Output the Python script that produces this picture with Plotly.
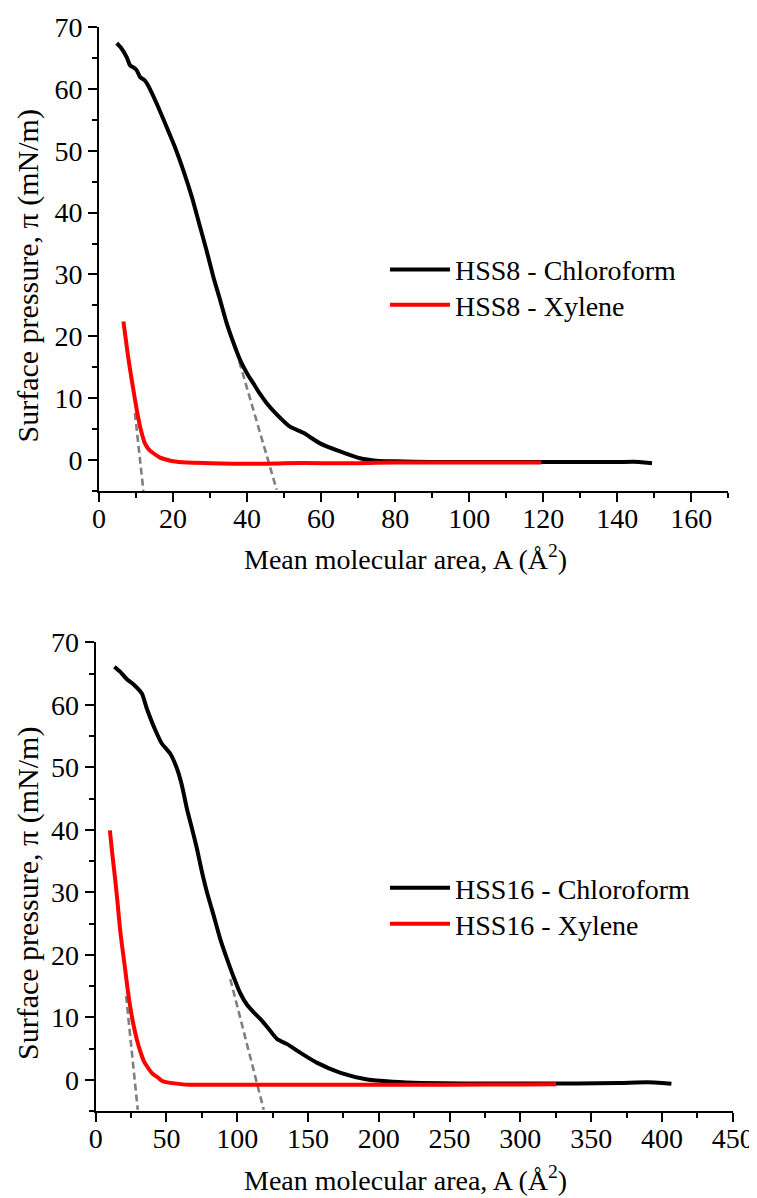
import plotly.graph_objects as go

# ---- data ----
# Top panel: HSS8
hss8_chl_x = [4.8, 6.0, 7.5, 8.4, 9.5, 10.2, 11.1, 12.3, 13.3, 15.6, 18.3, 20.5, 22.8, 25.1,
              27.3, 29.0, 30.9, 32.7, 34.5, 36.3, 38.1, 40.0, 41.7, 43.5, 45.3, 48.0, 51.6,
              55.2, 59.7, 65.1, 70.5, 75, 80, 90, 100, 110, 120, 130, 140, 146, 149.4]
hss8_chl_y = [67.4, 66.6, 65.1, 63.8, 63.4, 63.0, 61.9, 61.4, 60.5, 57.6, 53.8, 50.6, 46.8, 42.5,
              37.7, 34.0, 29.6, 25.9, 22.1, 19.0, 16.2, 14.0, 12.4, 10.7, 9.2, 7.4, 5.4,
              4.4, 2.7, 1.4, 0.3, -0.1, -0.2, -0.3, -0.3, -0.3, -0.3, -0.3, -0.3, -0.3, -0.5]
hss8_xyl_x = [6.6, 7.5, 8.4, 9.3, 10.2, 11.1, 12.4, 13.5, 14.7, 16.5, 18.3, 20, 23.7, 30,
              36.3, 45, 50, 60, 70, 80, 90, 100, 110, 119.5]
hss8_xyl_y = [22.4, 18.3, 14.6, 11.3, 8.1, 5.4, 2.7, 1.7, 1.1, 0.4, 0.05, -0.2, -0.4, -0.5,
              -0.6, -0.6, -0.5, -0.5, -0.5, -0.4, -0.4, -0.4, -0.4, -0.4]
hss8_tan_xyl_x = [9.7, 12.0]
hss8_tan_xyl_y = [7.6, -5]
hss8_tan_chl_x = [37.9, 48.0]
hss8_tan_chl_y = [15.9, -4.8]

# Bottom panel: HSS16
hss16_chl_x = [13.2, 17.2, 22.0, 26.6, 32.6, 36.1, 42.0, 46.7, 52.6, 57.4, 60.9, 64.4, 68.0,
               71.5, 75.1, 78.6, 83.3, 88.0, 92.8, 97.5, 102.2, 106.9, 111.6, 116.4, 122,
               128.2, 135.3, 144.7, 156.5, 173.0, 191.9, 210, 230, 260, 300, 340, 370, 390,
               400, 406.7]
hss16_chl_y = [66.1, 65.3, 64.1, 63.3, 61.8, 59.4, 56.0, 53.8, 52.2, 49.8, 47.1, 43.4, 40.2,
               37.0, 33.2, 30.0, 26.3, 22.5, 19.3, 16.4, 13.8, 12.0, 10.8, 9.7, 8.2,
               6.5, 5.7, 4.3, 2.7, 1.1, 0.05, -0.3, -0.5, -0.6, -0.6, -0.6, -0.5, -0.4,
               -0.5, -0.65]
hss16_xyl_x = [10.0, 11.8, 13.7, 15.5, 17.2, 19.0, 20.8, 22.5, 24.3, 26.5, 29.0, 32.0, 34.0,
               36.1, 40, 44.3, 47, 52.6, 60, 66.8, 100, 150, 200, 250, 300, 325.3]
hss16_xyl_y = [39.9, 36.0, 32.2, 28.2, 24.1, 20.8, 17.7, 14.6, 11.8, 9.0, 6.5, 4.2, 3.0,
               2.2, 1.0, 0.3, -0.2, -0.5, -0.7, -0.8, -0.8, -0.8, -0.8, -0.8, -0.75, -0.7]
hss16_tan_xyl_x = [21.5, 29.7]
hss16_tan_xyl_y = [13.4, -4.8]
hss16_tan_chl_x = [95.1, 118.7]
hss16_tan_chl_y = [16.1, -4.8]

y_ticks = [0, 10, 20, 30, 40, 50, 60, 70]

FONT = "Liberation Serif"
# the page body has an 8px margin, so the figure is a bit smaller and shifted
OFF = 8
FW, FH = 757 - OFF, 1198 - OFF


def px(x):
    return (x - OFF) / FW


def py(y):
    return 1 - (y - OFF) / FH


fig = go.Figure()

dash_style = dict(color="#7f7f7f", width=2.6, dash="7px,4px")
for tx, ty, xa, ya in [(hss8_tan_xyl_x, hss8_tan_xyl_y, "x", "y"),
                       (hss8_tan_chl_x, hss8_tan_chl_y, "x", "y"),
                       (hss16_tan_xyl_x, hss16_tan_xyl_y, "x2", "y2"),
                       (hss16_tan_chl_x, hss16_tan_chl_y, "x2", "y2")]:
    fig.add_trace(go.Scatter(x=tx, y=ty, mode="lines", line=dash_style,
                             showlegend=False, xaxis=xa, yaxis=ya, hoverinfo="skip"))

curve = dict(width=4, shape="spline", smoothing=0.6)
fig.add_trace(go.Scatter(x=hss8_chl_x, y=hss8_chl_y, mode="lines", name="HSS8 - Chloroform",
                         line=dict(color="black", **curve), xaxis="x", yaxis="y", legend="legend"))
fig.add_trace(go.Scatter(x=hss8_xyl_x, y=hss8_xyl_y, mode="lines", name="HSS8 - Xylene",
                         line=dict(color="#ff0000", **curve), xaxis="x", yaxis="y", legend="legend2"))
fig.add_trace(go.Scatter(x=hss16_chl_x, y=hss16_chl_y, mode="lines", name="HSS16 - Chloroform",
                         line=dict(color="black", **curve), xaxis="x2", yaxis="y2", legend="legend3"))
fig.add_trace(go.Scatter(x=hss16_xyl_x, y=hss16_xyl_y, mode="lines", name="HSS16 - Xylene",
                         line=dict(color="#ff0000", **curve), xaxis="x2", yaxis="y2", legend="legend4"))

tick_font = dict(family=FONT, size=28, color="black")


def main_axis(rng, dtick, minor_dtick, domain, anchor, tickvals=None, standoff=0):
    ax = dict(range=rng, domain=domain, anchor=anchor, showgrid=False, zeroline=False,
              showline=True, linecolor="black", linewidth=2, ticks="outside",
              ticklen=9, tickwidth=2, tickcolor="black", tickfont=tick_font,
              ticklabelstandoff=standoff,
              minor=dict(ticks="outside", ticklen=5, tickwidth=2, tickcolor="black",
                         dtick=minor_dtick, showgrid=False))
    if tickvals is not None:
        ax.update(tickmode="array", tickvals=tickvals)
    else:
        ax.update(tick0=0, dtick=dtick)
    return ax


def mirror_axis(rng, dtick, minor_dtick, over, anchor, side, tickvals=None):
    ax = dict(range=rng, overlaying=over, anchor=anchor, side=side, showgrid=False,
              zeroline=False, showline=True, linecolor="black", linewidth=2,
              ticks="inside", ticklen=9, tickwidth=2, tickcolor="black",
              showticklabels=False,
              minor=dict(ticks="inside", ticklen=5, tickwidth=2, tickcolor="black",
                         dtick=minor_dtick, showgrid=False))
    if tickvals is not None:
        ax.update(tickmode="array", tickvals=tickvals)
    else:
        ax.update(tick0=0, dtick=dtick)
    return ax


def legend_at(x, row_center):
    return dict(x=px(x), y=py(row_center - 27), xanchor="left", yanchor="top",
                bgcolor="rgba(0,0,0,0)", font=dict(family=FONT, size=28),
                itemwidth=60, tracegroupgap=0)


top_xd = [px(99), px(728.3)]
top_yd = [py(491), py(27)]
bot_xd = [px(95.7), px(732.7)]
bot_yd = [py(1111), py(642.3)]

fig.update_layout(
    width=FW, height=FH,
    margin=dict(l=0, r=0, t=0, b=0, autoexpand=False),
    paper_bgcolor="white", plot_bgcolor="white",
    font=dict(family=FONT, size=28, color="black"),
    xaxis=main_axis([0, 170], 20, 10, top_xd, "y", standoff=-8),
    yaxis=main_axis([-5, 70], 10, 5, top_yd, "x", y_ticks),
    xaxis2=main_axis([0, 450], 50, 25, bot_xd, "y2", standoff=-8),
    yaxis2=main_axis([-5, 70], 10, 5, bot_yd, "x2", y_ticks),
    xaxis3=mirror_axis([0, 170], 20, 10, "x", "y", "top"),
    yaxis3=mirror_axis([-5, 70], 10, 5, "y", "x", "right", y_ticks),
    xaxis4=mirror_axis([0, 450], 50, 25, "x2", "y2", "top"),
    yaxis4=mirror_axis([-5, 70], 10, 5, "y2", "x2", "right", y_ticks),
    legend=legend_at(385, 271.7),
    legend2=legend_at(385, 307),
    legend3=legend_at(385, 890),
    legend4=legend_at(385, 926),
    showlegend=True,
)

ytitle = "Surface pressure, \u03c0 (mN/m)"
xtitle = "Mean molecular area, A (\u00c5<sup>2</sup>)"
for yc in (276.5, 894):
    fig.add_annotation(text=ytitle, x=px(28), y=py(yc), xref="paper", yref="paper",
                       textangle=-90, showarrow=False, xanchor="center", yanchor="middle",
                       font=dict(family=FONT, size=30))
for yc in (557.5, 1178):
    fig.add_annotation(text=xtitle, x=px(405.5), y=py(yc), xref="paper", yref="paper",
                       showarrow=False, xanchor="center", yanchor="middle",
                       font=dict(family=FONT, size=28))

fig.write_html("out.html")
